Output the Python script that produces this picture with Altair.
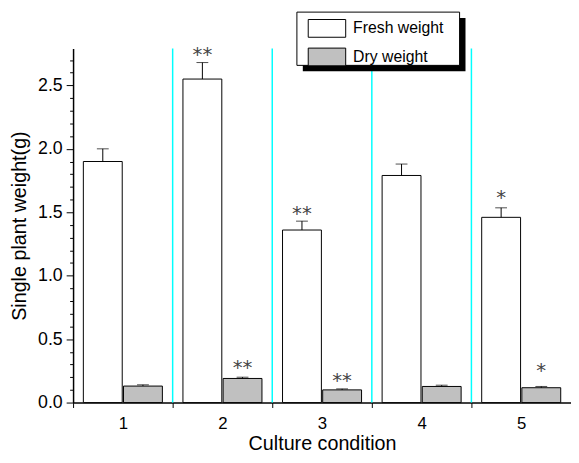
import altair as alt
import pandas as pd

# ---- data ----
conditions = ["1", "2", "3", "4", "5"]
series = ["Fresh weight", "Dry weight"]
fresh = [1.90, 2.55, 1.36, 1.79, 1.46]
fresh_err = [0.10, 0.13, 0.07, 0.09, 0.075]
dry = [0.13, 0.19, 0.10, 0.127, 0.117]
dry_err = [0.010, 0.010, 0.008, 0.010, 0.010]
fresh_sig = ["", "**", "**", "", "*"]
dry_sig = ["", "**", "**", "", "*"]
fresh_sig_y = [None, 2.75, 1.49, None, 1.62]
dry_sig_y = [None, 0.283, 0.18, None, 0.252]
y_major = [0.0, 0.5, 1.0, 1.5, 2.0, 2.5]
y_minor = [0.1, 0.2, 0.3, 0.4, 0.6, 0.7, 0.8, 0.9, 1.1, 1.2, 1.3, 1.4,
           1.6, 1.7, 1.8, 1.9, 2.1, 2.2, 2.3, 2.4, 2.6, 2.7]

rows = []
for i, c in enumerate(conditions):
    rows.append(dict(cond=c, series=series[0], value=fresh[i], top=fresh[i] + fresh_err[i],
                     sig=fresh_sig[i], sig_y=fresh_sig_y[i]))
    rows.append(dict(cond=c, series=series[1], value=dry[i], top=dry[i] + dry_err[i],
                     sig=dry_sig[i], sig_y=dry_sig_y[i]))
df = pd.DataFrame(rows)
sig_df = df[df["sig"] != ""]
sep_df = pd.DataFrame({"cond": conditions[1:]})

W, H = 505, 359
FONT = "Liberation Sans"

xscale = alt.Scale(paddingInner=0, paddingOuter=0)
x_axis = alt.Axis(title="Culture condition", labelAngle=0, tickBand="extent",
                  tickSize=5, tickColor="black", domainColor="black", domainWidth=1.5,
                  labelFontSize=17, labelPadding=8, titleFontSize=20, titlePadding=3)
x_enc = alt.X("cond:N", scale=xscale, axis=x_axis)
xo = alt.XOffset("series:N", sort=series,
                 scale=alt.Scale(domain=series, paddingOuter=0.256, paddingInner=0.032))
yscale = alt.Scale(domain=[0, 2.79], nice=False, zero=True)

y_axis = alt.Axis(title="Single plant weight(g)", orient="left", values=y_major, format=".1f",
                  tickSize=7, tickColor="black", domainColor="black", domainWidth=1.5,
                  labelFontSize=18, labelPadding=4, titleFontSize=20, titlePadding=8)
y_minor_axis = alt.Axis(title=None, orient="left", values=y_minor, labels=False, domain=False,
                        tickSize=3.5, tickColor="black")

NB = "\u00a0\u00a0"
legend = alt.Legend(
    orient="none", legendX=238, legendY=-30, title=None, padding=0,
    symbolType="M-1,-1H3.222V1H-1Z", symbolSize=324,
    symbolStrokeColor="black", symbolStrokeWidth=1, symbolOpacity=1,
    labelFont=FONT, labelFontSize=16, labelColor="black", labelOffset=27,
    rowPadding=6,
    labelExpr=f"datum.label == '{series[1]}' ? '{NB}' + datum.label : datum.label",
)

seps = alt.Chart(sep_df).mark_rule(color="#00ffff", strokeWidth=1.5).encode(
    x=alt.X("cond:N", scale=xscale, axis=x_axis, bandPosition=0),
    y=alt.value(0), y2=alt.value(H))

base = alt.Chart(df)
bars = base.mark_bar(stroke="black", strokeWidth=1).encode(
    x=x_enc, xOffset=xo,
    y=alt.Y("value:Q", scale=yscale, axis=y_axis),
    fill=alt.Fill("series:N", sort=series,
                  scale=alt.Scale(domain=series, range=["white", "#c0c0c0"]), legend=legend))

err = base.mark_rule(color="black", strokeWidth=1).encode(
    x=x_enc, xOffset=xo,
    y=alt.Y("value:Q", scale=yscale, axis=y_minor_axis), y2="top:Q")

caps = base.mark_tick(color="black", size=12, thickness=1).encode(
    x=x_enc, xOffset=xo, y=alt.Y("top:Q", scale=yscale, axis=None))

stars = alt.Chart(sig_df).mark_text(font="DejaVu Sans", fontSize=20, color="#444444",
                                    baseline="middle", dy=1).encode(
    x=x_enc, xOffset=xo, y=alt.Y("sig_y:Q", scale=yscale, axis=None), text="sig:N")

one = alt.Data(values=[{}])
shadow = alt.Chart(one).mark_rect(color="black").encode(
    x=alt.value(233), x2=alt.value(398), y=alt.value(-31), y2=alt.value(23))
frame = alt.Chart(one).mark_rect(fill="white", stroke="black", strokeWidth=1).encode(
    x=alt.value(227), x2=alt.value(392), y=alt.value(-37), y2=alt.value(17))

chart = alt.layer(seps, bars, err, caps, stars, shadow, frame).resolve_axis(y="independent").properties(
    width=W, height=H,
    autosize=alt.AutoSizeParams(type="none"),
    padding={"left": 66, "top": 38, "right": 0, "bottom": 50},
).configure_view(stroke=None).configure_axis(
    labelFont=FONT, titleFont=FONT, labelColor="black", titleColor="black",
    titleFontWeight="normal", grid=False,
)

chart.save("out.html", embed_options={"renderer": "svg", "actions": False})
